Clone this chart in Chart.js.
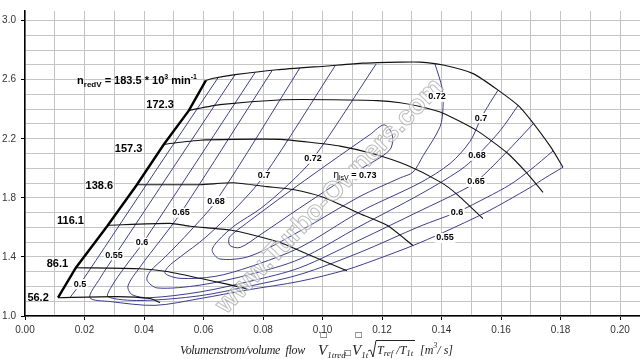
<!DOCTYPE html>
<html>
<head>
<meta charset="utf-8">
<script src="https://cdn.jsdelivr.net/npm/chart.js@4.4.1/dist/chart.umd.min.js"></script>
<style>
  html, body { margin: 0; padding: 0; background: #fff; }
  #map { display: block; }
</style>
</head>
<body>
<canvas id="map" width="640" height="359"></canvas>
<script>
// grid + tick labels
const xGrid = [0, 0.01, 0.02, 0.03, 0.04, 0.05, 0.06, 0.07, 0.08, 0.09, 0.10, 0.11, 0.12, 0.13, 0.14, 0.15, 0.16, 0.17, 0.18, 0.19, 0.20];
const yGrid = [1.0, 1.1, 1.2, 1.3, 1.4, 1.5, 1.6, 1.7, 1.8, 1.9, 2.0, 2.1, 2.2, 2.3, 2.4, 2.5, 2.6, 2.7, 2.8, 2.9, 3.0];
const xTickLabels = ["0.00", "0.02", "0.04", "0.06", "0.08", "0.10", "0.12", "0.14", "0.16", "0.18", "0.20"];
const yTickLabels = ["1.0", "1.4", "1.8", "2.2", "2.6", "3.0"];

// surge line
const surgeX = [0.0111, 0.0171, 0.0276, 0.0376, 0.0467, 0.0551, 0.0608];
const surgeY = [1.124, 1.327, 1.608, 1.889, 2.163, 2.392, 2.595];

// speed lines (n redV, 10^3 1/min)
const n562X = [0.0111, 0.0309, 0.0420, 0.0454];
const n562Y = [1.124, 1.131, 1.118, 1.092];
const n861X = [0.0171, 0.0387, 0.0477, 0.0588, 0.0679, 0.0746];
const n861Y = [1.327, 1.320, 1.301, 1.255, 1.216, 1.183];
const n1161X = [0.0276, 0.0487, 0.0555, 0.0689, 0.0766, 0.0857, 0.0958, 0.1082];
const n1161Y = [1.614, 1.627, 1.608, 1.582, 1.549, 1.497, 1.412, 1.307];
const n1386X = [0.0376, 0.0588, 0.0699, 0.0813, 0.0901, 0.1002, 0.1126, 0.1217, 0.1304];
const n1386Y = [1.889, 1.889, 1.902, 1.876, 1.856, 1.804, 1.693, 1.614, 1.477];
const n1573X = [0.0467, 0.0588, 0.0699, 0.0857, 0.0958, 0.1059, 0.1170, 0.1284, 0.1395, 0.1452, 0.1539];
const n1573Y = [2.163, 2.190, 2.196, 2.196, 2.176, 2.150, 2.098, 2.020, 1.908, 1.824, 1.660];
const n1723X = [0.0551, 0.0655, 0.0867, 0.1035, 0.1183, 0.1261, 0.1328, 0.1405, 0.1519, 0.1620, 0.1687, 0.1741];
const n1723Y = [2.392, 2.431, 2.464, 2.464, 2.458, 2.444, 2.418, 2.373, 2.255, 2.105, 1.967, 1.837];
const n1835X = [0.0608, 0.0629, 0.0706, 0.0847, 0.1015, 0.1136, 0.1261, 0.1328, 0.1405, 0.1506, 0.1590, 0.1664, 0.1765, 0.1808];
const n1835Y = [2.595, 2.608, 2.634, 2.667, 2.693, 2.712, 2.719, 2.719, 2.699, 2.641, 2.529, 2.412, 2.150, 2.007];

// efficiency contours
const eta50X = [0.0649, 0.0408, 0.0185, 0.0151];
const eta50Y = [2.614, 1.889, 1.216, 1.124];
const eta55X = [0.0706, 0.0303, 0.0252, 0.0218, 0.0286, 0.0437, 0.0588, 0.0746, 0.0924, 0.1082, 0.1193, 0.1304, 0.1402, 0.1553, 0.1697, 0.1748, 0.1808];
const eta55Y = [2.634, 1.412, 1.255, 1.124, 1.098, 1.072, 1.118, 1.176, 1.235, 1.314, 1.392, 1.477, 1.562, 1.706, 1.869, 1.935, 2.007];
const eta60X = [0.0773, 0.0397, 0.0336, 0.0292, 0.0279, 0.0387, 0.0588, 0.0756, 0.0924, 0.1126, 0.1328, 0.1455, 0.1553, 0.1630, 0.1697, 0.1775];
const eta60Y = [2.647, 1.497, 1.333, 1.203, 1.131, 1.105, 1.137, 1.203, 1.281, 1.431, 1.608, 1.706, 1.804, 1.889, 1.987, 2.118];
const eta65X = [0.0830, 0.0524, 0.0454, 0.0387, 0.0346, 0.0360, 0.0420, 0.0588, 0.0756, 0.0924, 0.1126, 0.1328, 0.1462, 0.1516, 0.1613, 0.1708];
const eta65Y = [2.660, 1.699, 1.510, 1.333, 1.203, 1.144, 1.124, 1.163, 1.235, 1.327, 1.516, 1.712, 1.843, 1.908, 2.098, 2.301];
const eta68X = [0.0924, 0.0642, 0.0555, 0.0471, 0.0420, 0.0410, 0.0444, 0.0588, 0.0756, 0.0924, 0.1126, 0.1328, 0.1462, 0.1519, 0.1597, 0.1657];
const eta68Y = [2.680, 1.778, 1.575, 1.399, 1.301, 1.242, 1.190, 1.209, 1.281, 1.386, 1.608, 1.824, 1.987, 2.085, 2.255, 2.425];
const eta70X = [0.1042, 0.0803, 0.0706, 0.0605, 0.0521, 0.0481, 0.0471, 0.0521, 0.0639, 0.0756, 0.0924, 0.1126, 0.1328, 0.1429, 0.1496, 0.1533, 0.1563, 0.1590];
const eta70Y = [2.693, 1.948, 1.725, 1.529, 1.399, 1.333, 1.288, 1.255, 1.268, 1.333, 1.464, 1.706, 1.902, 2.033, 2.183, 2.340, 2.444, 2.529];
const eta72X = [0.1180, 0.0968, 0.0874, 0.0790, 0.0706, 0.0649, 0.0629, 0.0655, 0.0756, 0.0924, 0.1126, 0.1261, 0.1304, 0.1338, 0.1395, 0.1405, 0.1402, 0.1378];
const eta72Y = [2.706, 2.065, 1.869, 1.725, 1.614, 1.510, 1.444, 1.386, 1.405, 1.575, 1.810, 1.935, 1.974, 2.085, 2.281, 2.412, 2.542, 2.706];
const eta73X = [0.0709, 0.0857, 0.1025, 0.1160, 0.1207, 0.1234, 0.1230, 0.1193, 0.1092, 0.0924, 0.0790, 0.0723, 0.0689, 0.0686, 0.0709];
const eta73Y = [1.575, 1.797, 2.039, 2.229, 2.294, 2.229, 2.137, 2.072, 1.954, 1.732, 1.549, 1.464, 1.477, 1.529, 1.575];

// labels
const effLabelText = ["0.5", "0.55", "0.6", "0.65", "0.68", "0.7", "0.72", "0.72", "0.7", "0.68", "0.65", "0.6", "0.55"];
const effLabelX = [0.0185, 0.0299, 0.0393, 0.0524, 0.0642, 0.0803, 0.0968, 0.1385, 0.1533, 0.1519, 0.1516, 0.1452, 0.1412];
const effLabelY = [1.216, 1.412, 1.497, 1.699, 1.778, 1.948, 2.065, 2.484, 2.340, 2.085, 1.908, 1.699, 1.529];
const speedLabelText = ["172.3", "157.3", "138.6", "116.1", "86.1", "56.2"];
const speedLabelX = [0.0454, 0.0348, 0.0250, 0.0153, 0.0109, 0.0044];
const speedLabelY = [2.428, 2.134, 1.882, 1.644, 1.353, 1.124];

const SANS = "\"Liberation Sans\", Arial, sans-serif";
const SERIF = "\"Liberation Serif\", \"DejaVu Serif\", serif";
const LINE_BLUE = "#3d3d8e";

function curve(xs, ys) {
  return xs.map((x, i) => ({ x: x, y: ys[i] }));
}

function line(xs, ys, color, width, tension) {
  return {
    data: curve(xs, ys),
    showLine: true,
    borderColor: color,
    borderWidth: width,
    pointRadius: 0,
    tension: tension,
    fill: false
  };
}

const datasets = [
  line(surgeX, surgeY, "#000", 2.4, 0),
  line(n562X, n562Y, "#111", 1.1, 0.2),
  line(n861X, n861Y, "#111", 1.1, 0.2),
  line(n1161X, n1161Y, "#111", 1.1, 0.2),
  line(n1386X, n1386Y, "#111", 1.1, 0.2),
  line(n1573X, n1573Y, "#111", 1.1, 0.2),
  line(n1723X, n1723Y, "#111", 1.1, 0.2),
  line(n1835X, n1835Y, "#111", 1.1, 0.2),
  line(eta50X, eta50Y, LINE_BLUE, 1, 0.3),
  line(eta55X, eta55Y, LINE_BLUE, 1, 0.3),
  line(eta60X, eta60Y, LINE_BLUE, 1, 0.3),
  line(eta65X, eta65Y, LINE_BLUE, 1, 0.3),
  line(eta68X, eta68Y, LINE_BLUE, 1, 0.3),
  line(eta70X, eta70Y, LINE_BLUE, 1, 0.3),
  line(eta72X, eta72Y, LINE_BLUE, 1, 0.3),
  line(eta73X, eta73Y, LINE_BLUE, 1, 0.3)
];

function drawParts(ctx, x, y, parts) {
  parts.forEach((p) => {
    ctx.font = p.font;
    ctx.fillText(p.text, x, y + (p.dy || 0));
    x += ctx.measureText(p.text).width;
  });
  return x;
}

function partsWidth(ctx, parts) {
  let w = 0;
  parts.forEach((p) => {
    ctx.font = p.font;
    w += ctx.measureText(p.text).width;
  });
  return w;
}

const annotations = {
  id: "annotations",
  afterDatasetsDraw(chart) {
    const ctx = chart.ctx;
    const sx = chart.scales.x;
    const sy = chart.scales.y;
    ctx.save();

    // watermark
    ctx.save();
    ctx.translate(sx.getPixelForValue(0.1025), sy.getPixelForValue(1.81));
    ctx.rotate(-46 * Math.PI / 180);
    ctx.font = "bold 27px " + SANS;
    ctx.textAlign = "center";
    ctx.textBaseline = "middle";
    ctx.fillStyle = "rgba(255, 255, 255, 0.6)";
    ctx.fillText("www.Turbo-Owners.com", 0, 0);
    ctx.lineWidth = 1;
    ctx.strokeStyle = "rgba(160, 160, 160, 0.7)";
    ctx.strokeText("www.Turbo-Owners.com", 0, 0);
    ctx.restore();

    // efficiency labels
    ctx.textAlign = "center";
    ctx.textBaseline = "middle";
    ctx.font = "bold 9px " + SANS;
    effLabelText.forEach((t, i) => {
      const px = sx.getPixelForValue(effLabelX[i]);
      const py = sy.getPixelForValue(effLabelY[i]);
      const w = ctx.measureText(t).width;
      ctx.fillStyle = "#fff";
      ctx.fillRect(px - w / 2 - 1.5, py - 5, w + 3, 10);
      ctx.fillStyle = "#000";
      ctx.fillText(t, px, py);
    });

    // speed labels
    ctx.font = "bold 11px " + SANS;
    speedLabelText.forEach((t, i) => {
      ctx.fillStyle = "#000";
      ctx.fillText(t, sx.getPixelForValue(speedLabelX[i]), sy.getPixelForValue(speedLabelY[i]));
    });

    ctx.textAlign = "left";
    ctx.textBaseline = "alphabetic";

    // peak efficiency label
    const etaParts = [
      { text: "\u03b7", font: "10px " + SANS },
      { text: "isV", font: "7px " + SANS, dy: 2 },
      { text: " = 0.73", font: "bold 9px " + SANS }
    ];
    const ew = partsWidth(ctx, etaParts);
    const ex = sx.getPixelForValue(0.1109) - ew / 2;
    const ey = sy.getPixelForValue(1.961);
    ctx.fillStyle = "#fff";
    ctx.fillRect(ex - 1.5, ey - 5, ew + 3, 10);
    ctx.fillStyle = "#000";
    drawParts(ctx, ex, ey + 3.5, etaParts);

    // max speed label
    drawParts(ctx, sx.getPixelForValue(0.0175), sy.getPixelForValue(2.569), [
      { text: "n", font: "bold 11px " + SANS },
      { text: "redV", font: "bold 8px " + SANS, dy: 3 },
      { text: " = 183.5 * 10", font: "bold 11px " + SANS },
      { text: "3", font: "bold 7px " + SANS, dy: -5 },
      { text: " min", font: "bold 11px " + SANS },
      { text: "-1", font: "bold 7px " + SANS, dy: -5 }
    ]);
    ctx.restore();
  },
  afterDraw(chart) {
    // axis title
    const ctx = chart.ctx;
    ctx.save();
    ctx.fillStyle = "#222";
    ctx.textAlign = "left";
    ctx.textBaseline = "alphabetic";
    ctx.font = "italic 12px " + SERIF;
    const title = "Volumenstrom/volume  flow";
    const tw = ctx.measureText(title).width;
    ctx.letterSpacing = ((125 - tw) / title.length).toFixed(2) + "px";
    ctx.fillText(title, 180, 354);
    ctx.letterSpacing = "0px";

    drawParts(ctx, 318, 355, [
      { text: "V", font: "italic 15px " + SERIF },
      { text: "1tred", font: "italic 9px " + SERIF, dy: 3 }
    ]);
    ctx.font = "8px \"DejaVu Sans\"";
    ctx.fillText("\u25a1", 344, 355);
    ctx.fillText("\u25a1", 320, 337);
    ctx.fillText("\u25a1", 355, 337);
    drawParts(ctx, 352, 355, [
      { text: "V", font: "italic 15px " + SERIF },
      { text: "1t", font: "italic 9px " + SERIF, dy: 3 }
    ]);
    ctx.strokeStyle = "#222";
    ctx.lineWidth = 1;
    ctx.beginPath();
    ctx.moveTo(368, 351);
    ctx.lineTo(370.5, 350);
    ctx.lineTo(373, 357);
    ctx.lineTo(376, 340.5);
    ctx.lineTo(415, 340.5);
    ctx.stroke();
    drawParts(ctx, 377, 354, [
      { text: "T", font: "italic 12px " + SERIF },
      { text: "ref", font: "italic 9px " + SERIF, dy: 2 },
      { text: " /", font: "italic 12px " + SERIF },
      { text: "T", font: "italic 12px " + SERIF },
      { text: "1t", font: "italic 9px " + SERIF, dy: 2 }
    ]);
    drawParts(ctx, 420, 354, [
      { text: "[m", font: "italic 12px " + SERIF },
      { text: "3", font: "italic 8px " + SERIF, dy: -6 },
      { text: "/ s]", font: "italic 12px " + SERIF }
    ]);
    ctx.restore();
  }
};

new Chart(document.getElementById("map"), {
  type: "scatter",
  data: { datasets: datasets },
  options: {
    responsive: false,
    animation: false,
    devicePixelRatio: 1,
    events: [],
    layout: { padding: 0 },
    plugins: {
      legend: { display: false },
      tooltip: { enabled: false }
    },
    scales: {
      x: {
        type: "linear",
        min: 0,
        max: 0.2067,
        afterBuildTicks: (scale) => {
          scale.ticks = xGrid.map((v) => ({ value: v }));
        },
        afterFit: (scale) => {
          scale.height = 43;
        },
        border: { display: true, color: "#000", width: 1.5 },
        grid: {
          color: "#c4c4c4",
          lineWidth: 1,
          tickLength: 4,
          tickColor: (ctx) => (ctx.tick && xTickLabels.includes(ctx.tick.value.toFixed(2)) ? "#000" : "rgba(0,0,0,0)")
        },
        ticks: {
          autoSkip: false,
          maxRotation: 0,
          padding: 4,
          color: "#333",
          font: { family: "Liberation Sans", size: 10 },
          callback: (value) => {
            const t = Number(value).toFixed(2);
            return xTickLabels.includes(t) ? t : "";
          }
        }
      },
      y: {
        type: "linear",
        min: 1,
        max: 3.065,
        afterBuildTicks: (scale) => {
          scale.ticks = yGrid.map((v) => ({ value: v }));
        },
        afterFit: (scale) => {
          scale.width = 25;
        },
        border: { display: true, color: "#000", width: 1.5 },
        grid: {
          color: "#c4c4c4",
          lineWidth: 1,
          tickLength: 4,
          tickColor: (ctx) => (ctx.tick && yTickLabels.includes(ctx.tick.value.toFixed(1)) ? "#000" : "rgba(0,0,0,0)")
        },
        ticks: {
          autoSkip: false,
          padding: 5,
          color: "#333",
          font: { family: "Liberation Sans", size: 10 },
          callback: (value) => {
            const t = Number(value).toFixed(1);
            return yTickLabels.includes(t) ? t : "";
          }
        }
      }
    }
  },
  plugins: [annotations]
});
</script>
</body>
</html>
